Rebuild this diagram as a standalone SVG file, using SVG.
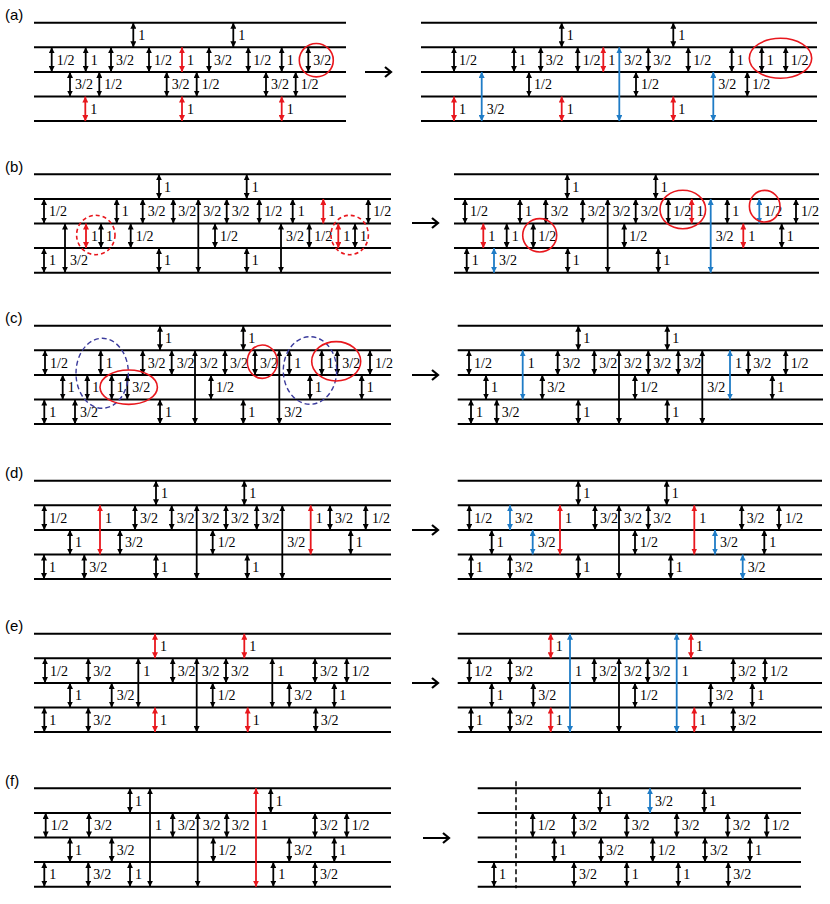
<svg xmlns="http://www.w3.org/2000/svg" xmlns:xlink="http://www.w3.org/1999/xlink" width="830" height="904" viewBox="0 0 830 904">
<style>
.hl{stroke:#000;stroke-width:2;fill:none}
.ak{stroke:#000;stroke-width:1.8;marker-start:url(#mk);marker-end:url(#mk)}
.ar{stroke:#e8171d;stroke-width:1.8;marker-start:url(#mr);marker-end:url(#mr)}
.ab{stroke:#1f7cc6;stroke-width:1.8;marker-start:url(#mb);marker-end:url(#mb)}
.t{font-family:"Liberation Serif","Times New Roman",serif;font-size:14px;fill:#000}
.pl{font-family:"Liberation Sans",Arial,sans-serif;font-size:15px;fill:#000}
.rc{fill:none;stroke:#e8171d;stroke-width:1.6}
.rd{fill:none;stroke:#e8171d;stroke-width:1.6;stroke-dasharray:4 3}
.bd{fill:none;stroke:#3b3b9c;stroke-width:1.4;stroke-dasharray:5 3}
.go{stroke:#000;stroke-width:2.2;fill:none}
</style>
<defs>
<marker id="mk" viewBox="0 0 10 10" refX="10" refY="5" markerWidth="6" markerHeight="6" markerUnits="userSpaceOnUse" orient="auto-start-reverse"><path d="M0,0L10,5L0,10z" fill="#000"/></marker>
<marker id="mr" viewBox="0 0 10 10" refX="10" refY="5" markerWidth="6" markerHeight="6" markerUnits="userSpaceOnUse" orient="auto-start-reverse"><path d="M0,0L10,5L0,10z" fill="#e8171d"/></marker>
<marker id="mb" viewBox="0 0 10 10" refX="10" refY="5" markerWidth="6" markerHeight="6" markerUnits="userSpaceOnUse" orient="auto-start-reverse"><path d="M0,0L10,5L0,10z" fill="#1f7cc6"/></marker>
<line id="k" class="ak" x1="0" y1="0" x2="0" y2="24.6"/>
<line id="r" class="ar" x1="0" y1="0" x2="0" y2="24.6"/>
<line id="b" class="ab" x1="0" y1="0" x2="0" y2="24.6"/>
<path id="go" class="go" d="M0,0H26M20,-5L26,0L20,5"/>
</defs>

<g id="panel-labels">
<text class="pl" x="5" y="20">(a)</text>
<text class="pl" x="5" y="172">(b)</text>
<text class="pl" x="5" y="323">(c)</text>
<text class="pl" x="5" y="478">(d)</text>
<text class="pl" x="5" y="631">(e)</text>
<text class="pl" x="5" y="786">(f)</text>
</g>

<g id="transition-arrows">
<use href="#go" x="365" y="72"/>
<use href="#go" x="412" y="223"/>
<use href="#go" x="412" y="375"/>
<use href="#go" x="412" y="530"/>
<use href="#go" x="412" y="683"/>
<use href="#go" x="423" y="838"/>
</g>

<!-- (a) left -->
<g id="a-left" transform="translate(0,22.7)">
<path class="hl" d="M34,0H346M34,24.6H346M34,49.2H346M34,73.8H346M34,98.4H346"/>
<g id="a-left-arrows">
<use href="#k" x="133.3" y="0"/><use href="#k" x="233.3" y="0"/>
<use href="#k" x="51.7" y="24.6"/><use href="#k" x="85.7" y="24.6"/><use href="#k" x="111" y="24.6"/><use href="#k" x="149" y="24.6"/><use href="#r" x="182" y="24.6"/><use href="#k" x="209" y="24.6"/><use href="#k" x="248.3" y="24.6"/><use href="#k" x="281.7" y="24.6"/><use href="#k" x="308.3" y="24.6"/>
<use href="#k" x="70" y="49.2"/><use href="#k" x="99.3" y="49.2"/><use href="#k" x="166.7" y="49.2"/><use href="#k" x="196.7" y="49.2"/><use href="#k" x="266" y="49.2"/><use href="#k" x="295.7" y="49.2"/>
<use href="#r" x="85.3" y="73.8"/><use href="#r" x="182" y="73.8"/><use href="#r" x="281.7" y="73.8"/>
</g>
<g class="t">
<text x="138.3" y="17.3">1</text><text x="238.3" y="17.3">1</text>
<text x="56.7" y="41.9">1/2</text><text x="90.7" y="41.9">1</text><text x="116" y="41.9">3/2</text><text x="154" y="41.9">1/2</text><text x="187" y="41.9">1</text><text x="214" y="41.9">3/2</text><text x="253.3" y="41.9">1/2</text><text x="286.7" y="41.9">1</text><text x="313.3" y="41.9">3/2</text>
<text x="75" y="66.5">3/2</text><text x="104.3" y="66.5">1/2</text><text x="171.7" y="66.5">3/2</text><text x="201.7" y="66.5">1/2</text><text x="271" y="66.5">3/2</text><text x="300.7" y="66.5">1/2</text>
<text x="90.3" y="91.1">1</text><text x="187" y="91.1">1</text><text x="286.7" y="91.1">1</text>
</g>
<ellipse class="rc" cx="316.3" cy="37.5" rx="17" ry="16.7"/>
</g>

<!-- (a) right -->
<g id="a-right" transform="translate(0,22.7)">
<path class="hl" d="M421,0H817M421,24.6H817M421,49.2H817M421,73.8H817M421,98.4H817"/>
<g id="a-right-arrows">
<use href="#k" x="561.7" y="0"/><use href="#k" x="673.3" y="0"/>
<use href="#k" x="454" y="24.6"/><use href="#k" x="514" y="24.6"/><use href="#k" x="540.7" y="24.6"/><use href="#k" x="577.7" y="24.6"/><use href="#r" x="603.3" y="24.6"/><use href="#k" x="648.3" y="24.6"/><use href="#k" x="688.3" y="24.6"/><use href="#k" x="731.7" y="24.6"/><use href="#k" x="761.7" y="24.6"/><use href="#k" x="785.7" y="24.6"/>
<use href="#k" x="529" y="49.2"/><use href="#k" x="636" y="49.2"/><use href="#k" x="747.3" y="49.2"/>
<use href="#r" x="454" y="73.8"/><use href="#r" x="561.7" y="73.8"/><use href="#r" x="673.3" y="73.8"/>
<line class="ab" x1="619.3" y1="24.6" x2="619.3" y2="98.4"/>
<line class="ab" x1="481.7" y1="49.2" x2="481.7" y2="98.4"/>
<line class="ab" x1="713.3" y1="49.2" x2="713.3" y2="98.4"/>
</g>
<g class="t">
<text x="566.7" y="17.3">1</text><text x="678.3" y="17.3">1</text>
<text x="459" y="41.9">1/2</text><text x="519" y="41.9">1</text><text x="545.7" y="41.9">3/2</text><text x="582.7" y="41.9">1/2</text><text x="608.3" y="41.9">1</text><text x="624.3" y="41.9">3/2</text><text x="653.3" y="41.9">3/2</text><text x="693.3" y="41.9">1/2</text><text x="736.7" y="41.9">1</text><text x="766.7" y="41.9">1</text><text x="790.7" y="41.9">1/2</text>
<text x="534" y="66.5">1/2</text><text x="641" y="66.5">1/2</text><text x="718.3" y="66.5">3/2</text><text x="752.3" y="66.5">1/2</text>
<text x="459" y="91.1">1</text><text x="486.7" y="91.1">3/2</text><text x="566.7" y="91.1">1</text><text x="678.3" y="91.1">1</text>
</g>
<ellipse class="rc" cx="780.5" cy="35.6" rx="31.2" ry="20"/>
</g>

<!-- (b) left -->
<g id="b-left" transform="translate(0,174.3)">
<path class="hl" d="M34,0H391M34,24.6H391M34,49.2H391M34,73.8H391M34,98.4H391"/>
<g id="b-left-arrows">
<use href="#k" x="159" y="0"/><use href="#k" x="246.7" y="0"/>
<use href="#k" x="44" y="24.6"/><use href="#k" x="116.7" y="24.6"/><use href="#k" x="142.7" y="24.6"/><use href="#k" x="173.3" y="24.6"/><use href="#k" x="226.7" y="24.6"/><use href="#k" x="259.3" y="24.6"/><use href="#k" x="292.7" y="24.6"/><use href="#r" x="323.3" y="24.6"/><use href="#k" x="368.3" y="24.6"/>
<use href="#r" x="86" y="49.2"/><use href="#k" x="101" y="49.2"/><use href="#k" x="130.7" y="49.2"/><use href="#k" x="215" y="49.2"/><use href="#k" x="309.3" y="49.2"/><use href="#r" x="338.3" y="49.2"/><use href="#k" x="355" y="49.2"/>
<use href="#k" x="44" y="73.8"/><use href="#k" x="159" y="73.8"/><use href="#k" x="246.7" y="73.8"/>
<line class="ak" x1="198.3" y1="24.6" x2="198.3" y2="98.4"/>
<line class="ak" x1="65" y1="49.2" x2="65" y2="98.4"/>
<line class="ak" x1="281" y1="49.2" x2="281" y2="98.4"/>
</g>
<g class="t">
<text x="164" y="17.3">1</text><text x="251.7" y="17.3">1</text>
<text x="49" y="41.9">1/2</text><text x="121.7" y="41.9">1</text><text x="147.7" y="41.9">3/2</text><text x="178.3" y="41.9">3/2</text><text x="203.3" y="41.9">3/2</text><text x="231.7" y="41.9">3/2</text><text x="264.3" y="41.9">1/2</text><text x="297.7" y="41.9">1</text><text x="328.3" y="41.9">1</text><text x="373.3" y="41.9">1/2</text>
<text x="91" y="66.5">1</text><text x="106" y="66.5">1</text><text x="135.7" y="66.5">1/2</text><text x="220" y="66.5">1/2</text><text x="286" y="66.5">3/2</text><text x="314.3" y="66.5">1/2</text><text x="343.3" y="66.5">1</text><text x="360" y="66.5">1</text>
<text x="49" y="91.1">1</text><text x="70" y="91.1">3/2</text><text x="164" y="91.1">1</text><text x="251.7" y="91.1">1</text>
</g>
<ellipse class="rd" cx="95.8" cy="60.7" rx="19.2" ry="19.7"/>
<ellipse class="rd" cx="349.7" cy="60.7" rx="18.7" ry="19.7"/>
</g>

<!-- (b) right -->
<g id="b-right" transform="translate(0,174.3)">
<path class="hl" d="M454,0H819M454,24.6H819M454,49.2H819M454,73.8H819M454,98.4H819"/>
<g id="b-right-arrows">
<use href="#k" x="567.3" y="0"/><use href="#k" x="655.7" y="0"/>
<use href="#k" x="465" y="24.6"/><use href="#k" x="520" y="24.6"/><use href="#k" x="545.7" y="24.6"/><use href="#k" x="582.7" y="24.6"/><use href="#k" x="635.7" y="24.6"/><use href="#k" x="668.3" y="24.6"/><use href="#r" x="691.7" y="24.6"/><use href="#k" x="727.3" y="24.6"/><use href="#b" x="759.3" y="24.6"/><use href="#k" x="796" y="24.6"/>
<use href="#r" x="483.3" y="49.2"/><use href="#k" x="506.7" y="49.2"/><use href="#k" x="533.3" y="49.2"/><use href="#k" x="624.3" y="49.2"/><use href="#r" x="743.3" y="49.2"/><use href="#k" x="781.7" y="49.2"/>
<use href="#k" x="466.7" y="73.8"/><use href="#b" x="494" y="73.8"/><use href="#k" x="567.7" y="73.8"/><use href="#k" x="658.3" y="73.8"/>
<line class="ak" x1="607.7" y1="24.6" x2="607.7" y2="98.4"/>
<line class="ab" x1="710.7" y1="24.6" x2="710.7" y2="98.4"/>
</g>
<g class="t">
<text x="572.3" y="17.3">1</text><text x="660.7" y="17.3">1</text>
<text x="470" y="41.9">1/2</text><text x="525" y="41.9">1</text><text x="550.7" y="41.9">3/2</text><text x="587.7" y="41.9">3/2</text><text x="612.7" y="41.9">3/2</text><text x="640.7" y="41.9">3/2</text><text x="673.3" y="41.9">1/2</text><text x="696.7" y="41.9">1</text><text x="732.3" y="41.9">1</text><text x="764.3" y="41.9">1/2</text><text x="801" y="41.9">1/2</text>
<text x="488.3" y="66.5">1</text><text x="511.7" y="66.5">1</text><text x="538.3" y="66.5">1/2</text><text x="629.3" y="66.5">1/2</text><text x="715.7" y="66.5">3/2</text><text x="748.3" y="66.5">1</text><text x="786.7" y="66.5">1</text>
<text x="471.7" y="91.1">1</text><text x="499" y="91.1">3/2</text><text x="572.7" y="91.1">1</text><text x="663.3" y="91.1">1</text>
</g>
<ellipse class="rc" cx="682.8" cy="35.2" rx="22.8" ry="19.2"/>
<ellipse class="rc" cx="764.7" cy="31.9" rx="15.3" ry="15.8"/>
<ellipse class="rc" cx="539.7" cy="61" rx="17" ry="16.7"/>
</g>

<!-- (c) left -->
<g id="c-left" transform="translate(0,325.7)">
<path class="hl" d="M34,0H391M34,24.6H391M34,49.2H391M34,73.8H391M34,98.4H391"/>
<g id="c-left-arrows">
<use href="#k" x="160" y="0"/><use href="#k" x="243.3" y="0"/>
<use href="#k" x="45" y="24.6"/><use href="#k" x="100.7" y="24.6"/><use href="#k" x="142.7" y="24.6"/><use href="#k" x="171.7" y="24.6"/><use href="#k" x="225" y="24.6"/><use href="#k" x="255" y="24.6"/><use href="#k" x="289.3" y="24.6"/><use href="#k" x="321.7" y="24.6"/><use href="#k" x="337.3" y="24.6"/><use href="#k" x="370" y="24.6"/>
<use href="#k" x="62.7" y="49.2"/><use href="#k" x="87.3" y="49.2"/><use href="#k" x="111.7" y="49.2"/><use href="#k" x="127.3" y="49.2"/><use href="#k" x="211" y="49.2"/><use href="#k" x="310" y="49.2"/><use href="#k" x="361.7" y="49.2"/>
<use href="#k" x="44.3" y="73.8"/><use href="#k" x="75" y="73.8"/><use href="#k" x="160" y="73.8"/><use href="#k" x="243.3" y="73.8"/>
<line class="ak" x1="195" y1="24.6" x2="195" y2="98.4"/>
<line class="ak" x1="279.3" y1="24.6" x2="279.3" y2="98.4"/>
</g>
<g class="t">
<text x="165" y="17.3">1</text><text x="248.3" y="17.3">1</text>
<text x="50" y="41.9">1/2</text><text x="105.7" y="41.9">1</text><text x="147.7" y="41.9">3/2</text><text x="176.7" y="41.9">3/2</text><text x="200" y="41.9">3/2</text><text x="230" y="41.9">3/2</text><text x="260" y="41.9">3/2</text><text x="294.3" y="41.9">1</text><text x="326.7" y="41.9">1</text><text x="342.3" y="41.9">3/2</text><text x="375" y="41.9">1/2</text>
<text x="67.7" y="66.5">1</text><text x="92.3" y="66.5">1</text><text x="116.7" y="66.5">1</text><text x="132.3" y="66.5">3/2</text><text x="216" y="66.5">1/2</text><text x="315" y="66.5">1</text><text x="366.7" y="66.5">1</text>
<text x="49.3" y="91.1">1</text><text x="80" y="91.1">3/2</text><text x="165" y="91.1">1</text><text x="248.3" y="91.1">1</text><text x="284.3" y="91.1">3/2</text>
</g>
<ellipse class="bd" cx="102.2" cy="47.6" rx="26.2" ry="35"/>
<ellipse class="bd" cx="310" cy="44.8" rx="26.7" ry="33.8"/>
<ellipse class="rc" cx="262.3" cy="36" rx="15" ry="16.7"/>
<ellipse class="rc" cx="128.7" cy="61.5" rx="28.7" ry="17.2"/>
<ellipse class="rc" cx="336.2" cy="35.6" rx="24.5" ry="19.7"/>
</g>

<!-- (c) right -->
<g id="c-right" transform="translate(0,325.7)">
<path class="hl" d="M457.7,0H823M457.7,24.6H823M457.7,49.2H823M457.7,73.8H823M457.7,98.4H823"/>
<g id="c-right-arrows">
<use href="#k" x="578.3" y="0"/><use href="#k" x="667.3" y="0"/>
<use href="#k" x="469" y="24.6"/><use href="#k" x="557.7" y="24.6"/><use href="#k" x="594.3" y="24.6"/><use href="#k" x="648.3" y="24.6"/><use href="#k" x="678.3" y="24.6"/><use href="#k" x="748.3" y="24.6"/><use href="#k" x="785.7" y="24.6"/>
<use href="#k" x="486" y="49.2"/><use href="#k" x="542.3" y="49.2"/><use href="#k" x="635" y="49.2"/><use href="#k" x="772.3" y="49.2"/>
<use href="#k" x="471" y="73.8"/><use href="#k" x="496.7" y="73.8"/><use href="#k" x="578.3" y="73.8"/><use href="#k" x="667.3" y="73.8"/>
<line class="ab" x1="522.7" y1="24.6" x2="522.7" y2="73.8"/>
<line class="ak" x1="619" y1="24.6" x2="619" y2="98.4"/>
<line class="ak" x1="702.3" y1="24.6" x2="702.3" y2="98.4"/>
<line class="ab" x1="730" y1="24.6" x2="730" y2="73.8"/>
</g>
<g class="t">
<text x="583.3" y="17.3">1</text><text x="672.3" y="17.3">1</text>
<text x="474" y="41.9">1/2</text><text x="527.7" y="41.9">1</text><text x="562.7" y="41.9">3/2</text><text x="599.3" y="41.9">3/2</text><text x="624" y="41.9">3/2</text><text x="653.3" y="41.9">3/2</text><text x="683.3" y="41.9">3/2</text><text x="735" y="41.9">1</text><text x="753.3" y="41.9">3/2</text><text x="790.7" y="41.9">1/2</text>
<text x="491" y="66.5">1</text><text x="547.3" y="66.5">3/2</text><text x="640" y="66.5">1/2</text><text x="707.3" y="66.5">3/2</text><text x="777.3" y="66.5">1</text>
<text x="476" y="91.1">1</text><text x="501.7" y="91.1">3/2</text><text x="583.3" y="91.1">1</text><text x="672.3" y="91.1">1</text>
</g>
</g>

<!-- (d) left -->
<g id="d-left" transform="translate(0,480.7)">
<path class="hl" d="M34,0H391M34,24.6H391M34,49.2H391M34,73.8H391M34,98.4H391"/>
<g id="d-left-arrows">
<use href="#k" x="156" y="0"/><use href="#k" x="244.3" y="0"/>
<use href="#k" x="44.3" y="24.6"/><use href="#k" x="135" y="24.6"/><use href="#k" x="171.7" y="24.6"/><use href="#k" x="226" y="24.6"/><use href="#k" x="256.7" y="24.6"/><use href="#k" x="330" y="24.6"/><use href="#k" x="365.7" y="24.6"/>
<use href="#k" x="70" y="49.2"/><use href="#k" x="120" y="49.2"/><use href="#k" x="212.7" y="49.2"/><use href="#k" x="350.7" y="49.2"/>
<use href="#k" x="44" y="73.8"/><use href="#k" x="84.3" y="73.8"/><use href="#k" x="156" y="73.8"/><use href="#k" x="247.3" y="73.8"/>
<line class="ar" x1="100" y1="24.6" x2="100" y2="73.8"/>
<line class="ak" x1="196.7" y1="24.6" x2="196.7" y2="98.4"/>
<line class="ak" x1="282.3" y1="24.6" x2="282.3" y2="98.4"/>
<line class="ar" x1="310.7" y1="24.6" x2="310.7" y2="73.8"/>
</g>
<g class="t">
<text x="161" y="17.3">1</text><text x="249.3" y="17.3">1</text>
<text x="49.3" y="41.9">1/2</text><text x="105" y="41.9">1</text><text x="140" y="41.9">3/2</text><text x="176.7" y="41.9">3/2</text><text x="201.7" y="41.9">3/2</text><text x="231" y="41.9">3/2</text><text x="261.7" y="41.9">3/2</text><text x="315.7" y="41.9">1</text><text x="335" y="41.9">3/2</text><text x="372" y="41.9">1/2</text>
<text x="75" y="66.5">1</text><text x="125" y="66.5">3/2</text><text x="217.7" y="66.5">1/2</text><text x="287.3" y="66.5">3/2</text><text x="355.7" y="66.5">1</text>
<text x="49" y="91.1">1</text><text x="89.3" y="91.1">3/2</text><text x="161" y="91.1">1</text><text x="252.3" y="91.1">1</text>
</g>
</g>

<!-- (d) right -->
<g id="d-right" transform="translate(0,480.7)">
<path class="hl" d="M457.7,0H822M457.7,24.6H822M457.7,49.2H822M457.7,73.8H822M457.7,98.4H822"/>
<g id="d-right-arrows">
<use href="#k" x="578.3" y="0"/><use href="#k" x="666.7" y="0"/>
<use href="#k" x="469.3" y="24.6"/><use href="#b" x="510" y="24.6"/><use href="#k" x="595" y="24.6"/><use href="#k" x="648.3" y="24.6"/><use href="#k" x="741.7" y="24.6"/><use href="#k" x="779" y="24.6"/>
<use href="#k" x="491.7" y="49.2"/><use href="#b" x="532.7" y="49.2"/><use href="#k" x="635" y="49.2"/><use href="#b" x="715" y="49.2"/><use href="#k" x="764.3" y="49.2"/>
<use href="#k" x="471" y="73.8"/><use href="#k" x="510" y="73.8"/><use href="#k" x="578.3" y="73.8"/><use href="#k" x="670.7" y="73.8"/><use href="#b" x="742.7" y="73.8"/>
<line class="ar" x1="560" y1="24.6" x2="560" y2="73.8"/>
<line class="ak" x1="619" y1="24.6" x2="619" y2="98.4"/>
<line class="ar" x1="694.3" y1="24.6" x2="694.3" y2="73.8"/>
</g>
<g class="t">
<text x="583.3" y="17.3">1</text><text x="671.7" y="17.3">1</text>
<text x="474.3" y="41.9">1/2</text><text x="515" y="41.9">3/2</text><text x="565" y="41.9">1</text><text x="600" y="41.9">3/2</text><text x="624" y="41.9">3/2</text><text x="653.3" y="41.9">3/2</text><text x="699.3" y="41.9">1</text><text x="746.7" y="41.9">3/2</text><text x="785" y="41.9">1/2</text>
<text x="496.7" y="66.5">1</text><text x="537.7" y="66.5">3/2</text><text x="640" y="66.5">1/2</text><text x="720" y="66.5">3/2</text><text x="769.3" y="66.5">1</text>
<text x="476" y="91.1">1</text><text x="515" y="91.1">3/2</text><text x="583.3" y="91.1">1</text><text x="675.7" y="91.1">1</text><text x="747.7" y="91.1">3/2</text>
</g>
</g>

<!-- (e) left -->
<g id="e-left" transform="translate(0,633.7)">
<path class="hl" d="M34,0H391M34,24.6H391M34,49.2H391M34,73.8H391M34,98.4H391"/>
<g id="e-left-arrows">
<use href="#r" x="155" y="0"/><use href="#r" x="244.3" y="0"/>
<use href="#k" x="45" y="24.6"/><use href="#k" x="88.3" y="24.6"/><use href="#k" x="172.7" y="24.6"/><use href="#k" x="226" y="24.6"/><use href="#k" x="315" y="24.6"/><use href="#k" x="346.7" y="24.6"/>
<use href="#k" x="70" y="49.2"/><use href="#k" x="111.7" y="49.2"/><use href="#k" x="212.7" y="49.2"/><use href="#k" x="289.3" y="49.2"/><use href="#k" x="334.3" y="49.2"/>
<use href="#k" x="44.3" y="73.8"/><use href="#k" x="88.3" y="73.8"/><use href="#r" x="155" y="73.8"/><use href="#r" x="247.7" y="73.8"/><use href="#k" x="315.7" y="73.8"/>
<line class="ak" x1="138.3" y1="24.6" x2="138.3" y2="73.8"/>
<line class="ak" x1="196.7" y1="24.6" x2="196.7" y2="98.4"/>
<line class="ak" x1="272.3" y1="24.6" x2="272.3" y2="73.8"/>
</g>
<g class="t">
<text x="160" y="17.3">1</text><text x="249.3" y="17.3">1</text>
<text x="50" y="41.9">1/2</text><text x="93.3" y="41.9">3/2</text><text x="143.3" y="41.9">1</text><text x="177.7" y="41.9">3/2</text><text x="201.7" y="41.9">3/2</text><text x="231" y="41.9">3/2</text><text x="277.3" y="41.9">1</text><text x="320" y="41.9">3/2</text><text x="351.7" y="41.9">1/2</text>
<text x="75" y="66.5">1</text><text x="116.7" y="66.5">3/2</text><text x="217.7" y="66.5">1/2</text><text x="294.3" y="66.5">3/2</text><text x="339.3" y="66.5">1</text>
<text x="49.3" y="91.1">1</text><text x="93.3" y="91.1">3/2</text><text x="160" y="91.1">1</text><text x="252.7" y="91.1">1</text><text x="320.7" y="91.1">3/2</text>
</g>
</g>

<!-- (e) right -->
<g id="e-right" transform="translate(0,633.7)">
<path class="hl" d="M457.7,0H822M457.7,24.6H822M457.7,49.2H822M457.7,73.8H822M457.7,98.4H822"/>
<g id="e-right-arrows">
<use href="#r" x="550.7" y="0"/><use href="#r" x="691" y="0"/>
<use href="#k" x="469.3" y="24.6"/><use href="#k" x="510" y="24.6"/><use href="#k" x="594.3" y="24.6"/><use href="#k" x="647.7" y="24.6"/><use href="#k" x="733.3" y="24.6"/><use href="#k" x="765" y="24.6"/>
<use href="#k" x="491.7" y="49.2"/><use href="#k" x="533.3" y="49.2"/><use href="#k" x="635" y="49.2"/><use href="#k" x="710.7" y="49.2"/><use href="#k" x="752.3" y="49.2"/>
<use href="#k" x="471" y="73.8"/><use href="#k" x="510" y="73.8"/><use href="#r" x="550.7" y="73.8"/><use href="#r" x="694.3" y="73.8"/><use href="#k" x="733.3" y="73.8"/>
<line class="ab" x1="570" y1="0" x2="570" y2="98.4"/>
<line class="ak" x1="619" y1="24.6" x2="619" y2="98.4"/>
<line class="ab" x1="676.7" y1="0" x2="676.7" y2="98.4"/>
</g>
<g class="t">
<text x="555.7" y="17.3">1</text><text x="696" y="17.3">1</text>
<text x="474.3" y="41.9">1/2</text><text x="515" y="41.9">3/2</text><text x="575" y="41.9">1</text><text x="599.3" y="41.9">3/2</text><text x="624" y="41.9">3/2</text><text x="652.7" y="41.9">3/2</text><text x="681.7" y="41.9">1</text><text x="738.3" y="41.9">3/2</text><text x="770" y="41.9">1/2</text>
<text x="496.7" y="66.5">1</text><text x="538.3" y="66.5">3/2</text><text x="640" y="66.5">1/2</text><text x="715.7" y="66.5">3/2</text><text x="757.3" y="66.5">1</text>
<text x="476" y="91.1">1</text><text x="515" y="91.1">3/2</text><text x="555.7" y="91.1">1</text><text x="699.3" y="91.1">1</text><text x="738.3" y="91.1">3/2</text>
</g>
</g>

<!-- (f) left -->
<g id="f-left" transform="translate(0,788.3)">
<path class="hl" d="M34,0H391M34,24.6H391M34,49.2H391M34,73.8H391M34,98.4H391"/>
<g id="f-left-arrows">
<use href="#k" x="130" y="0"/><use href="#k" x="270.7" y="0"/>
<use href="#k" x="45.7" y="24.6"/><use href="#k" x="89" y="24.6"/><use href="#k" x="172.7" y="24.6"/><use href="#k" x="226.7" y="24.6"/><use href="#k" x="315" y="24.6"/><use href="#k" x="346.7" y="24.6"/>
<use href="#k" x="70" y="49.2"/><use href="#k" x="111.7" y="49.2"/><use href="#k" x="213.3" y="49.2"/><use href="#k" x="289.3" y="49.2"/><use href="#k" x="334.3" y="49.2"/>
<use href="#k" x="44.3" y="73.8"/><use href="#k" x="88.3" y="73.8"/><use href="#k" x="130" y="73.8"/><use href="#k" x="273.3" y="73.8"/><use href="#k" x="315" y="73.8"/>
<line class="ak" x1="150" y1="0" x2="150" y2="98.4"/>
<line class="ak" x1="197.7" y1="24.6" x2="197.7" y2="98.4"/>
<line class="ar" x1="256" y1="0" x2="256" y2="98.4"/>
</g>
<g class="t">
<text x="135" y="17.3">1</text><text x="275.7" y="17.3">1</text>
<text x="50.7" y="41.9">1/2</text><text x="94" y="41.9">3/2</text><text x="155" y="41.9">1</text><text x="177.7" y="41.9">3/2</text><text x="202.7" y="41.9">3/2</text><text x="231.7" y="41.9">3/2</text><text x="261" y="41.9">1</text><text x="320" y="41.9">3/2</text><text x="351.7" y="41.9">1/2</text>
<text x="75" y="66.5">1</text><text x="116.7" y="66.5">3/2</text><text x="218.3" y="66.5">1/2</text><text x="294.3" y="66.5">3/2</text><text x="339.3" y="66.5">1</text>
<text x="49.3" y="91.1">1</text><text x="93.3" y="91.1">3/2</text><text x="135" y="91.1">1</text><text x="278.3" y="91.1">1</text><text x="320" y="91.1">3/2</text>
</g>
</g>

<!-- (f) right -->
<g id="f-right" transform="translate(0,788.3)">
<path class="hl" d="M477.7,0H801M477.7,24.6H801M477.7,49.2H801M477.7,73.8H801M477.7,98.4H801"/>
<line x1="516" y1="-7" x2="516" y2="100" stroke="#000" stroke-width="1.5" stroke-dasharray="5 3"/>
<g id="f-right-arrows">
<use href="#k" x="600" y="0"/><use href="#b" x="650" y="0"/><use href="#k" x="704.3" y="0"/>
<use href="#k" x="532.7" y="24.6"/><use href="#k" x="574" y="24.6"/><use href="#k" x="626.7" y="24.6"/><use href="#k" x="676.7" y="24.6"/><use href="#k" x="727.7" y="24.6"/><use href="#k" x="766.7" y="24.6"/>
<use href="#k" x="554.3" y="49.2"/><use href="#k" x="601" y="49.2"/><use href="#k" x="652.7" y="49.2"/><use href="#k" x="705" y="49.2"/><use href="#k" x="750" y="49.2"/>
<use href="#k" x="494" y="73.8"/><use href="#k" x="574" y="73.8"/><use href="#k" x="626.7" y="73.8"/><use href="#k" x="678.3" y="73.8"/><use href="#k" x="728.3" y="73.8"/>
</g>
<g class="t">
<text x="605" y="17.3">1</text><text x="655" y="17.3">3/2</text><text x="709.3" y="17.3">1</text>
<text x="537.7" y="41.9">1/2</text><text x="579" y="41.9">3/2</text><text x="631.7" y="41.9">3/2</text><text x="681.7" y="41.9">3/2</text><text x="732.7" y="41.9">3/2</text><text x="771.7" y="41.9">1/2</text>
<text x="559.3" y="66.5">1</text><text x="606" y="66.5">3/2</text><text x="657.7" y="66.5">1/2</text><text x="710" y="66.5">3/2</text><text x="755" y="66.5">1</text>
<text x="499" y="91.1">1</text><text x="579" y="91.1">3/2</text><text x="631.7" y="91.1">1</text><text x="683.3" y="91.1">1</text><text x="733.3" y="91.1">3/2</text>
</g>
</g>
</svg>
